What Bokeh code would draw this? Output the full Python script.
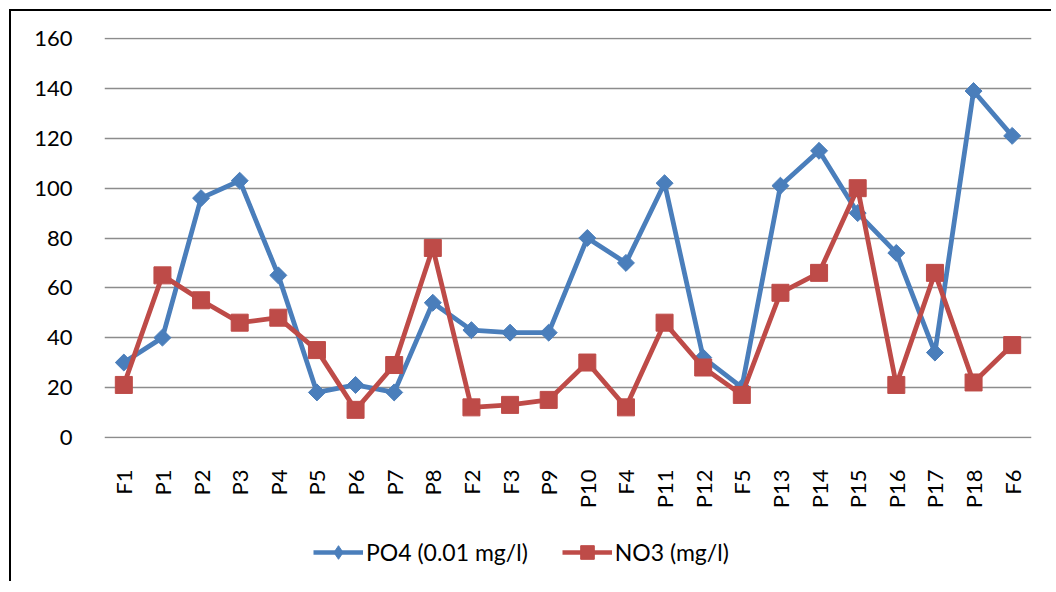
import math
from bokeh.plotting import figure
from bokeh.layouts import column
from bokeh.models import ColumnDataSource, Legend, LegendItem, FactorRange, Range1d, FixedTicker
from bokeh.embed import file_html
from bokeh.resources import INLINE

sites = ["F1", "P1", "P2", "P3", "P4", "P5", "P6", "P7", "P8", "F2", "F3", "P9",
         "P10", "F4", "P11", "P12", "F5", "P13", "P14", "P15", "P16", "P17", "P18", "F6"]
po4 = [30, 40, 96, 103, 65, 18, 21, 18, 54, 43, 42, 42,
       80, 70, 102, 32, 20, 101, 115, 90, 74, 34, 139, 121]
no3 = [21, 65, 55, 46, 48, 35, 11, 29, 76, 12, 13, 15,
       30, 12, 46, 28, 17, 58, 66, 100, 21, 66, 22, 37]
y_ticks = [0, 20, 40, 60, 80, 100, 120, 140, 160]
series_names = ["PO4 (0.01 mg/l)", "NO3 (mg/l)"]

BLUE = "#4a7ebb"
RED = "#be4b48"
FONT = "Lato"

src = ColumnDataSource(dict(site=sites, po4=po4, no3=no3))

p = figure(x_range=FactorRange(*sites), y_range=Range1d(-0.5, 160.5),
           frame_width=927, frame_height=401,
           min_border_left=93, min_border_top=26, min_border_right=20, min_border_bottom=5,
           output_backend="svg", toolbar_location=None)
p.outline_line_color = None
p.background_fill_color = "white"
p.border_fill_color = "white"

p.xgrid.grid_line_color = None
p.ygrid.grid_line_color = "#8c8c8c"
p.ygrid.grid_line_width = 1.6
p.yaxis.ticker = FixedTicker(ticks=y_ticks)

for ax in (p.xaxis[0], p.yaxis[0]):
    ax.axis_line_color = None
    ax.major_tick_line_color = None
    ax.minor_tick_line_color = None
    ax.major_label_text_font = FONT
    ax.major_label_text_font_size = "22px"
    ax.major_label_text_color = "black"
p.yaxis.major_label_standoff = 26
p.xaxis.major_label_standoff = 25
p.xaxis.major_label_orientation = math.pi / 2

p.line("site", "po4", source=src, line_color=BLUE, line_width=4.8)
p.scatter("site", "po4", source=src, marker="square", angle=math.pi / 4, size=12,
          fill_color=BLUE, line_color=BLUE)
p.line("site", "no3", source=src, line_color=RED, line_width=4.8)
p.scatter("site", "no3", source=src, marker="square", size=17,
          fill_color=RED, line_color=RED)

# legend strip below the chart (same series styles; its own glyphs lie outside its ranges)
lf = figure(width=1040, height=70, x_range=Range1d(0, 1040), y_range=Range1d(0, 70),
            min_border=0, output_backend="svg", toolbar_location=None)
lf.outline_line_color = None
lf.axis.visible = False
lf.grid.visible = False
off = ColumnDataSource(dict(x=[-500, -400], y=[-500, -400]))
k1 = lf.line("x", "y", source=off, line_color=BLUE, line_width=4.5)
s1 = lf.scatter("x", "y", source=off, marker="diamond", size=17,
                fill_color=BLUE, line_color=BLUE)
k2 = lf.line("x", "y", source=off, line_color=RED, line_width=4.5)
s2 = lf.scatter("x", "y", source=off, marker="square", size=17,
                fill_color=RED, line_color=RED)
legend = Legend(items=[LegendItem(label=series_names[0], renderers=[k1, s1]),
                       LegendItem(label=series_names[1], renderers=[k2, s2])],
                orientation="horizontal", location=(209, 12),
                label_text_font=FONT, label_text_font_size="23px", label_text_color="black",
                glyph_width=50, glyph_height=34, label_standoff=3, spacing=34,
                border_line_color=None, background_fill_alpha=0, margin=0, padding=8)
lf.add_layout(legend, "center")

layout = column(p, lf, spacing=0,
                styles={"margin-left": "9px", "margin-top": "9px",
                        "border-left": "2px solid black", "border-top": "2px solid black"})

open("out.html", "w").write(file_html(layout, INLINE))
